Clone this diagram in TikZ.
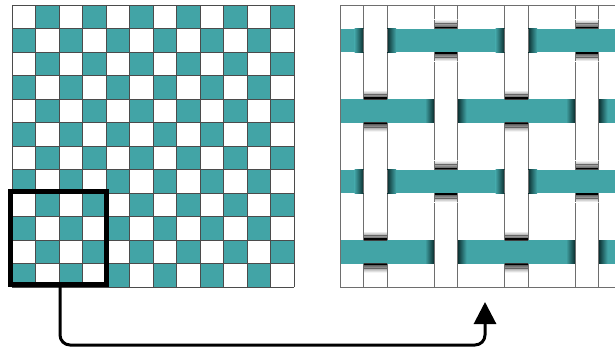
\documentclass[tikz,border=0pt]{standalone}
\usetikzlibrary{arrows.meta}
\definecolor{teal1}{RGB}{66,164,166}
\definecolor{tealdark}{RGB}{10,45,46}
\definecolor{gridgray}{RGB}{75,75,75}
\definecolor{framegray}{RGB}{110,110,110}
\begin{document}
\begin{tikzpicture}[x=1pt,y=-1pt,
  gridline/.style={draw=gridgray,line width=0.8pt},
  frameline/.style={draw=framegray,line width=0.9pt},
  selbox/.style={draw=black,line width=5pt,inner sep=0pt,fill=none},
  arrowline/.style={draw=black,line width=3pt,rounded corners=10pt,-{Triangle[length=22pt,width=22pt]}}]
\useasboundingbox (0,0) rectangle (615,351);
% ---- left checkerboard ----
\foreach \i in {0,...,11}{
  \foreach \j in {0,...,11}{
    \pgfmathtruncatemacro\p{mod(\i+\j,2)}
    \ifnum\p=1
      \fill[teal1] ({12+\i*23.5},{5+\j*23.5}) rectangle ++(23.5,23.5);
    \fi
  }
}
\foreach \k in {0,...,12}{
  \draw[gridline] ({12+\k*23.5},5) -- ({12+\k*23.5},287);
  \draw[gridline] (12,{5+\k*23.5}) -- (294,{5+\k*23.5});
}
% selection box
\node[selbox,minimum width=95.5pt,minimum height=93.5pt] (sel) at (58.25,237.75) {};
% ---- right woven panel ----
% warp threads
\foreach \x in {363.5,434,504.5,575}{
  \filldraw[frameline,fill=white] (\x,5) rectangle ++(23.5,282);
}
% weft threads
\foreach \y in {28.5,99,169.5,240}{
  \fill[teal1] (340,\y) rectangle (615,{\y+23.5});
}
% crossings
\foreach \i/\x in {0/363.5,1/434,2/504.5,3/575}{
  \foreach \j/\y in {0/28.5,1/99,2/169.5,3/240}{
    \pgfmathtruncatemacro\q{mod(\i+\j,2)}
    \ifnum\q=0
      % warp over weft
      \shade[left color=teal1,right color=tealdark] ({\x-9},\y) rectangle (\x,{\y+23.5});
      \shade[left color=tealdark,right color=teal1] ({\x+23.5},\y) rectangle ({\x+32.5},{\y+23.5});
      \fill[white] (\x,\y) rectangle ++(23.5,23.5);
      \draw[frameline] (\x,\y) -- ++(0,23.5) ({\x+23.5},\y) -- ++(0,23.5);
    \else
      % weft over warp
      \shade[top color=white,bottom color=black!75] (\x,{\y-9}) rectangle ({\x+23.5},\y);
      \shade[top color=black!75,bottom color=white] (\x,{\y+23.5}) rectangle ({\x+23.5},{\y+32.5});
      \draw[black!60,line width=0.6pt] (\x,{\y-5}) -- ++(23.5,0) (\x,{\y+28.5}) -- ++(23.5,0);
      \draw[black,line width=1.5pt] (\x,{\y-0.8}) -- ++(23.5,0) (\x,{\y+24.3}) -- ++(23.5,0);
      \draw[frameline] (\x,{\y-9}) -- (\x,\y) ({\x+23.5},{\y-9}) -- ({\x+23.5},\y)
                       (\x,{\y+23.5}) -- (\x,{\y+32.5}) ({\x+23.5},{\y+23.5}) -- ({\x+23.5},{\y+32.5});
    \fi
  }
}
% frame
\draw[frameline] (615,5) -- (340,5) -- (340,287) -- (615,287);
% ---- arrow ----
\coordinate (src) at (60,284.5);
\coordinate (c1) at (60,345);
\coordinate (c2) at (485,345);
\coordinate (dst) at (485,302);
\draw[arrowline] (src) -- (c1) -- (c2) -- (dst);
\end{tikzpicture}
\end{document}
